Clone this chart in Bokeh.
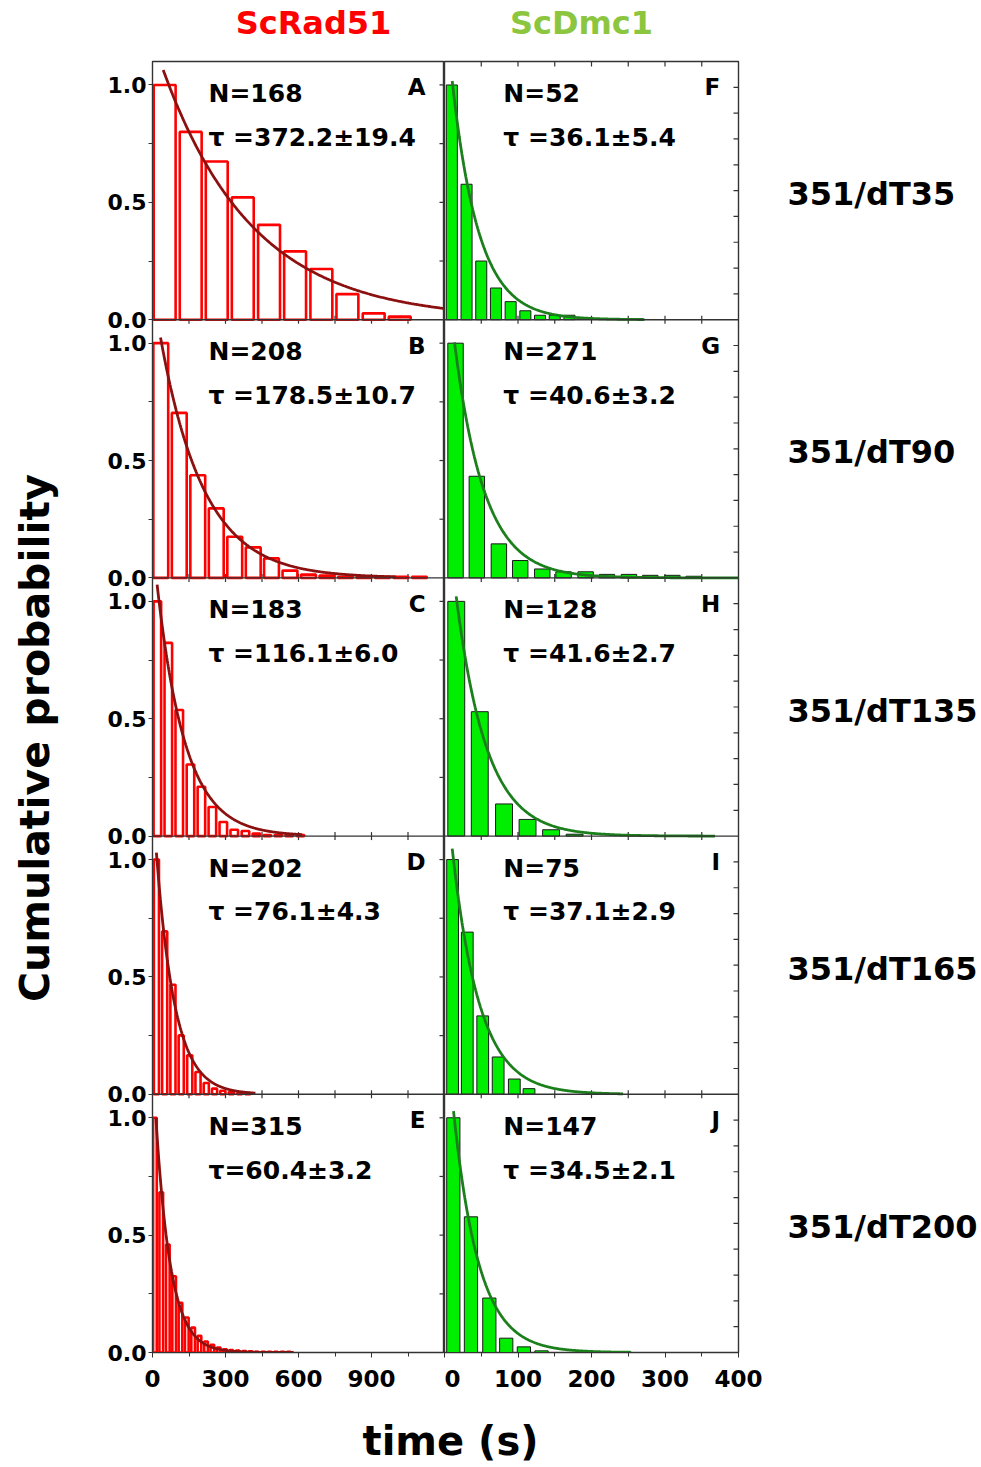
import numpy as np
from bokeh.plotting import figure
from bokeh.models import Range1d, LinearAxis, FixedTicker, Span
from bokeh.layouts import column, row
from bokeh.embed import file_html
from bokeh.resources import INLINE
from bokeh.core.properties import value

FONT = "DejaVu Sans"

# ---------------- data ----------------
col_titles = ["ScRad51", "ScDmc1"]
row_labels = ["351/dT35", "351/dT90", "351/dT135", "351/dT165", "351/dT200"]
y_title = "Cumulative probability"
x_title = "time (s)"

rad51_letters = ["A", "B", "C", "D", "E"]
dmc1_letters = ["F", "G", "H", "I", "J"]
rad51_n_text = ["N=168", "N=208", "N=183", "N=202", "N=315"]
dmc1_n_text = ["N=52", "N=271", "N=128", "N=75", "N=147"]
rad51_tau_text = ["\u03c4 =372.2\u00b119.4", "\u03c4 =178.5\u00b110.7", "\u03c4 =116.1\u00b16.0",
                  "\u03c4 =76.1\u00b14.3", "\u03c4=60.4\u00b13.2"]
dmc1_tau_text = ["\u03c4 =36.1\u00b15.4", "\u03c4 =40.6\u00b13.2", "\u03c4 =41.6\u00b12.7",
                 "\u03c4 =37.1\u00b12.9", "\u03c4 =34.5\u00b12.1"]
rad51_tau = [372.2, 178.5, 116.1, 76.1, 60.4]
dmc1_tau = [36.1, 40.6, 41.6, 37.1, 34.5]

# histogram bar centres (s) and cumulative probabilities
rad51_t = [
    [50, 157, 264, 371, 479, 586, 694, 801, 909, 1016],
    [34, 110, 186, 262, 338, 414, 489, 565, 641, 717, 793, 869, 945, 1021, 1097],
    [20, 65, 110, 156, 201, 246, 291, 336, 382, 427, 472, 517, 562, 608],
    [16, 50, 84, 118, 153, 187, 221, 255, 289, 324, 358, 392],
    [10, 36, 63, 89, 115, 141, 167, 193, 220, 246, 272, 298, 324, 350, 377, 403,
     429, 455, 481, 507, 534, 560],
]
rad51_p = [
    [1.0, 0.80, 0.674, 0.521, 0.404, 0.291, 0.216, 0.109, 0.027, 0.013],
    [1.0, 0.703, 0.437, 0.296, 0.175, 0.130, 0.083, 0.031, 0.014, 0.010, 0.005,
     0.005, 0.005, 0.005, 0.005],
    [1.0, 0.823, 0.537, 0.305, 0.21, 0.124, 0.06, 0.027, 0.022, 0.011, 0.005,
     0.005, 0.005, 0.005],
    [1.0, 0.694, 0.467, 0.251, 0.166, 0.095, 0.048, 0.024, 0.015, 0.010, 0.005, 0.005],
    [1.0, 0.683, 0.46, 0.325, 0.212, 0.149, 0.106, 0.071, 0.047, 0.033, 0.021,
     0.014, 0.010, 0.008, 0.006, 0.005, 0.003, 0.003, 0.003, 0.003, 0.003, 0.003],
]
rad51_w = [90, 61, 31, 21, 15]

dmc1_t = [
    [10, 30, 50, 70, 90, 110, 130, 150, 170],
    [15, 44, 74, 103, 133, 162, 192, 221, 251, 280, 310, 339],
    [16, 48, 81, 113, 145, 177],
    [11, 31, 52, 73, 95, 115],
    [12, 36, 61, 84, 108, 132],
]
dmc1_p = [
    [1.0, 0.577, 0.25, 0.135, 0.077, 0.038, 0.019, 0.019, 0.019],
    [1.0, 0.433, 0.145, 0.074, 0.038, 0.026, 0.026, 0.015, 0.015, 0.011, 0.011, 0.007],
    [1.0, 0.53, 0.137, 0.071, 0.027, 0.008],
    [1.0, 0.691, 0.334, 0.159, 0.065, 0.024],
    [1.0, 0.578, 0.232, 0.061, 0.024, 0.007],
]
dmc1_w = [15, 21, 23, 16, 18]

# single-exponential fit curves: start time, amplitude at start, end time
rad51_fit_start = [44, 33, 19, 16, 14]
rad51_fit_amp = [1.064, 1.024, 1.071, 1.03, 1.0]
rad51_fit_end = [1200, 1000, 615, 423, 580]
dmc1_fit_start = [10.5, 13.6, 15.9, 10.5, 12.3]
dmc1_fit_amp = [1.017, 1.004, 1.021, 1.047, 1.028]
dmc1_fit_end = [272, 400, 368, 243, 254]

rad51_xticks = [0, 300, 600, 900]
rad51_xlabels = ["0", "300", "600", "900"]
rad51_xminor = [150, 450, 750, 1050]
dmc1_xticks = [0, 100, 200, 300, 400]
dmc1_xlabels = ["0", "100", "200", "300", "400"]
dmc1_xminor = [50, 150, 250, 350]
y_major = [0.0, 0.5, 1.0]
y_major_labels = ["0.0", "0.5", "1.0"]
y_minor = [0.25, 0.75]
rad51_mirror_y = [0.25, 0.5, 0.75, 1.0]
dmc1_mirror_y = [0.11, 0.22, 0.33, 0.44, 0.55, 0.66, 0.77, 0.88, 0.99]
rad51_inner_x = [150, 300, 450, 600, 750, 900, 1050]
dmc1_inner_x = [50, 100, 150, 200, 250, 300, 350]

# ---------------- styling / layout ----------------
NROW = 5
BAND = 1.1
FRAME_C = "#333333"
MID_H = 1351
TOP_B = 2
BOT_B = 58


def band_base(k):
    return (NROW - 1 - k) * BAND


def blank(width, height, xr, yr, **kw):
    f = figure(width=width, height=height, x_range=Range1d(*xr), y_range=Range1d(*yr),
               x_axis_location=None, y_axis_location=None, toolbar_location=None,
               output_backend="svg", outline_line_color=None, **kw)
    f.grid.visible = False
    return f


def column_fig(width, xmax, bl, br, times, probs, widths, taus, f_start, f_amp, f_end,
               n_text, tau_text, letters, bar_kw, line_color, text_x, letter_x,
               xticks, xlabels, xminor, left_axis, mirror_y, inner_x, top_ticks):
    p = figure(width=width, height=MID_H, x_range=Range1d(0, xmax), y_range=Range1d(0, NROW * BAND),
               x_axis_location=None, y_axis_location=None, toolbar_location=None,
               output_backend="svg", min_border_left=bl, min_border_right=br,
               min_border_top=TOP_B, min_border_bottom=BOT_B,
               outline_line_color=FRAME_C, outline_line_width=1.4)
    p.grid.visible = False
    p.extra_y_ranges = {f"r{k}": Range1d(-band_base(k), (k + 1) * BAND) for k in range(NROW)}

    xa = LinearAxis(ticker=FixedTicker(ticks=xticks, minor_ticks=xminor),
                    major_label_overrides={t: l for t, l in zip(xticks, xlabels)},
                    major_label_text_font=FONT, major_label_text_font_style="bold",
                    major_label_text_font_size="23px", major_label_text_color="black",
                    major_tick_out=5, major_tick_in=0, minor_tick_out=4, minor_tick_in=0,
                    major_label_standoff=12, axis_line_color=FRAME_C,
                    major_tick_line_color=FRAME_C, minor_tick_line_color=FRAME_C)
    p.add_layout(xa, "below")

    if left_axis:
        yt, ym, ov = [], [], {}
        for k in range(NROW):
            b = band_base(k)
            for v, lab in zip(y_major, y_major_labels):
                pos = round(b + v, 4)
                yt.append(pos)
                ov[pos] = lab
            for v in y_minor:
                ym.append(round(b + v, 4))
        ya = LinearAxis(ticker=FixedTicker(ticks=yt, minor_ticks=ym),
                        major_label_overrides=ov,
                        major_label_text_font=FONT, major_label_text_font_style="bold",
                        major_label_text_font_size="22px", major_label_text_color="black",
                        major_tick_out=4, major_tick_in=0, minor_tick_out=4, minor_tick_in=0,
                        major_label_standoff=2, axis_line_color=FRAME_C,
                        major_tick_line_color=FRAME_C, minor_tick_line_color=FRAME_C)
        p.add_layout(ya, "left")

    for j in range(1, NROW):
        p.add_layout(Span(location=j * BAND, dimension="width", line_color=FRAME_C, line_width=1.4))

    # mirror ticks on the right edge (inward), clipped to the frame
    for k in range(NROW):
        p.scatter(x=[xmax] * len(mirror_y), y=mirror_y, marker="dash", size=10,
                  line_color=FRAME_C, line_width=1.2, y_range_name=f"r{k}")
    # ticks on the boundaries between rows (and the top edge for the right column)
    for k in range(1, NROW):
        p.scatter(x=inner_x, y=[0] * len(inner_x), marker="dash", angle=np.pi / 2, size=8,
                  line_color=FRAME_C, line_width=1.2, y_range_name=f"r{k - 1}")
    if top_ticks:
        p.scatter(x=inner_x, y=[BAND] * len(inner_x), marker="dash", angle=np.pi / 2, size=10,
                  line_color=FRAME_C, line_width=1.2, y_range_name="r0")

    for k in range(NROW):
        rn = f"r{k}"
        t = np.array(times[k], dtype=float)
        pr = np.array(probs[k], dtype=float)
        w = widths[k]
        p.quad(left=t - w / 2, right=t + w / 2, bottom=0, top=pr, y_range_name=rn, **bar_kw)
        tt_ = np.linspace(f_start[k], f_end[k], 300)
        yy = f_amp[k] * np.exp(-(tt_ - f_start[k]) / taus[k])
        p.line(tt_, yy, line_color=line_color, line_width=2.8, y_range_name=rn)
        p.text(x=[text_x, text_x], y=[0.964, 0.777], text=[n_text[k], tau_text[k]],
               text_font=value(FONT), text_font_style="bold", text_font_size="25px",
               text_color="black", text_baseline="middle", text_align="left", y_range_name=rn)
        p.text(x=[letter_x], y=[0.99], text=[letters[k]], text_font=value(FONT),
               text_font_style="bold", text_font_size="23px", text_color="black",
               text_baseline="middle", text_align="right", y_range_name=rn)
    return p


left = column_fig(374, 1200, 82, 0, rad51_t, rad51_p, rad51_w, rad51_tau,
                  rad51_fit_start, rad51_fit_amp, rad51_fit_end,
                  rad51_n_text, rad51_tau_text, rad51_letters,
                  dict(fill_color="white", line_color="#ff0000", line_width=2.6),
                  "#8b1010", 230, 1122, rad51_xticks, rad51_xlabels, rad51_xminor, True,
                  rad51_mirror_y, rad51_inner_x, False)

RIGHT_W = 326
right = column_fig(RIGHT_W, 400, 0, RIGHT_W - 294, dmc1_t, dmc1_p, dmc1_w, dmc1_tau,
                   dmc1_fit_start, dmc1_fit_amp, dmc1_fit_end,
                   dmc1_n_text, dmc1_tau_text, dmc1_letters,
                   dict(fill_color="#00ee00", line_color="#1a1a1a", line_width=1),
                   "#1b7f1b", 80, 375, dmc1_xticks, dmc1_xlabels, dmc1_xminor, False,
                   dmc1_mirror_y, dmc1_inner_x, True)

# header
header = blank(981, 59, (0, 981), (0, 59), min_border=0)
header.text(x=[313, 581], y=[37, 37], text=col_titles, text_color=["#ff0000", "#8cc63e"],
            text_font=value(FONT), text_font_style="bold", text_font_size="32px",
            text_align="center", text_baseline="middle")

# y title
ylab = blank(70, MID_H, (0, 70), (0, MID_H), min_border=0)
ylab.text(x=[34], y=[MID_H - (740 - 59) - 27], text=[y_title], angle=np.pi / 2,
          text_font=value(FONT), text_font_style="bold", text_font_size="41px",
          text_color="black", text_align="center", text_baseline="middle")

# row labels
ROWLAB_W = 981 - 70 - 374 - RIGHT_W
rowlab = blank(ROWLAB_W, MID_H, (0, ROWLAB_W), (0, NROW * BAND), min_border_left=0,
               min_border_right=0, min_border_top=TOP_B, min_border_bottom=BOT_B)
rowlab.text(x=[787 - (70 + 374 + RIGHT_W)] * NROW,
            y=[band_base(k) + BAND / 2 - 0.015 for k in range(NROW)],
            text=row_labels, text_font=value(FONT), text_font_style="bold",
            text_font_size="32px", text_color="black", text_align="left",
            text_baseline="middle")

# footer
footer = blank(981, 57, (0, 981), (0, 57), min_border=0)
footer.text(x=[450], y=[27], text=[x_title], text_font=value(FONT), text_font_style="bold",
            text_font_size="40px", text_color="black", text_align="center",
            text_baseline="middle")

layout = column(header, row(ylab, left, right, rowlab), footer)

open("out.html", "w").write(file_html(layout, INLINE))
